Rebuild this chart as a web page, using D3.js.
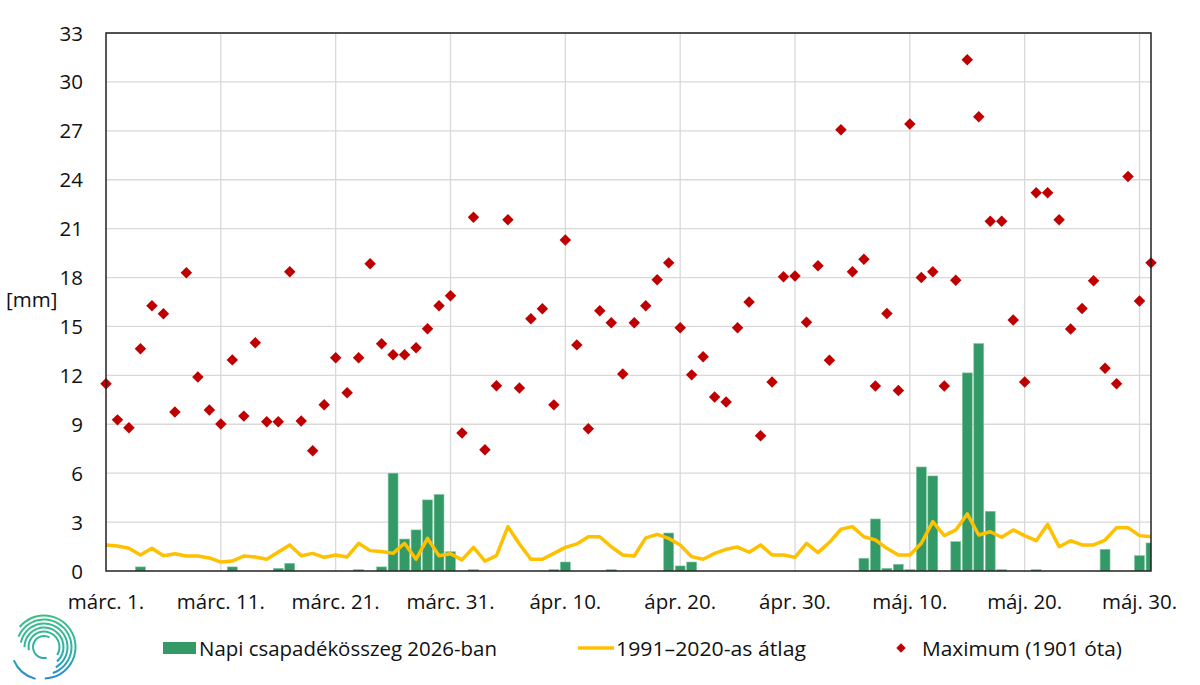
<!DOCTYPE html>
<html>
<head>
<meta charset="utf-8">
<script src="https://cdn.jsdelivr.net/npm/d3@7"></script>
<style>
	body { margin: 0; background: #fff; }
	text { font-family: "Open Sans", "Noto Sans", sans-serif; fill: #111; font-size: 20.5px; }
</style>
</head>
<body>
<div id="chart"></div>
<script>
// napok: márc. 1. – máj. 31.
var dayCount = 92;
var tickDays = [0, 10, 20, 30, 40, 50, 60, 70, 80, 90];
var tickLabels = ["márc. 1.", "márc. 11.", "márc. 21.", "márc. 31.", "ápr. 10.", "ápr. 20.", "ápr. 30.", "máj. 10.", "máj. 20.", "máj. 30."];
var yTicks = [0, 3, 6, 9, 12, 15, 18, 21, 24, 27, 30, 33];

// napi csapadék 2026 (csak a nem nulla napok)
var rainDays = [3, 11, 15, 16, 22, 24, 25, 26, 27, 28, 29, 30, 32, 39, 40, 44, 49, 50, 51, 66, 67, 68, 69, 70, 71, 72, 74, 75, 76, 77, 78, 81, 87, 90, 91];
var rainValues = [0.25, 0.25, 0.16, 0.47, 0.08, 0.25, 6.0, 1.96, 2.52, 4.36, 4.69, 1.18, 0.08, 0.08, 0.55, 0.08, 2.33, 0.31, 0.55, 0.78, 3.19, 0.16, 0.41, 0.08, 6.38, 5.83, 1.8, 12.15, 13.95, 3.66, 0.08, 0.08, 1.33, 0.94, 1.72];

// 1991–2020-as átlag
var avgValues = [1.6, 1.53, 1.39, 0.98, 1.39, 0.94, 1.06, 0.92, 0.92, 0.8,
	0.55, 0.61, 0.92, 0.86, 0.72, 1.17, 1.6, 0.94, 1.08, 0.84,
	0.98, 0.86, 1.7, 1.25, 1.19, 1.08, 1.7, 0.72, 2.0, 0.94,
	1.06, 0.68, 1.45, 0.61, 0.94, 2.72, 1.66, 0.72, 0.72, 1.08,
	1.45, 1.66, 2.1, 2.1, 1.49, 0.98, 0.92, 2.03, 2.25, 2.0,
	1.6, 0.88, 0.72, 1.08, 1.33, 1.47, 1.15, 1.6, 0.98, 0.98,
	0.84, 1.7, 1.13, 1.76, 2.56, 2.72, 2.1, 1.9, 1.39, 0.98,
	0.98, 1.7, 3.03, 2.17, 2.52, 3.5, 2.21, 2.41, 2.07, 2.52,
	2.17, 1.86, 2.86, 1.49, 1.86, 1.6, 1.6, 1.9, 2.66, 2.66,
	2.17, 2.1];

// maximum (1901 óta)
var maxValues = [11.48, 9.27, 8.78, 13.63, 16.27, 15.78, 9.76, 18.29, 11.9, 9.88,
	9.02, 12.95, 9.5, 14.0, 9.15, 9.15, 18.35, 9.2, 7.37, 10.2,
	13.08, 10.93, 13.08, 18.85, 13.94, 13.26, 13.26, 13.69, 14.86, 16.27,
	16.88, 8.47, 21.7, 7.43, 11.36, 21.55, 11.23, 15.47, 16.08, 10.19,
	20.3, 13.87, 8.72, 15.96, 15.22, 12.09, 15.22, 16.27, 17.86, 18.9,
	14.92, 12.03, 13.14, 10.68, 10.37, 14.92, 16.5, 8.29, 11.6, 18.05,
	18.1, 15.26, 18.73, 12.93, 27.07, 18.35, 19.12, 11.35, 15.8, 11.07,
	27.42, 18.0, 18.35, 11.35, 17.84, 31.36, 27.86, 21.45, 21.45, 15.4,
	11.59, 23.2, 23.2, 21.55, 14.85, 16.1, 17.8, 12.44, 11.49, 24.2,
	16.56, 18.9];

var legendLabels = ["Napi csapadékösszeg 2026-ban", "1991–2020-as átlag", "Maximum (1901 óta)"];

var W = 1200, H = 685;
var margins = { left: 106, right: 49, top: 33, bottom: 114 };

var svg = d3.select("#chart").append("svg")
	.attr("width", W)
	.attr("height", H);
var defs = svg.append("defs");

var x = d3.scaleLinear()
	.domain([0, dayCount - 1])
	.range([margins.left, W - margins.right]);
var step = x(1) - x(0);
var y = d3.scaleLinear()
	.domain([0, 33])
	.range([H - margins.bottom, margins.top]);

// gridlines
svg.append("g").selectAll("line.h")
	.data(yTicks.slice(1))
	.enter().append("line")
	.attr("x1", margins.left).attr("x2", W - margins.right)
	.attr("y1", function(d) { return y(d); }).attr("y2", function(d) { return y(d); })
	.attr("stroke", "#d9d9d9").attr("stroke-width", 1.3);
svg.append("g").selectAll("line.v")
	.data(tickDays.slice(1))
	.enter().append("line")
	.attr("x1", function(d) { return x(d); }).attr("x2", function(d) { return x(d); })
	.attr("y1", margins.top).attr("y2", H - margins.bottom)
	.attr("stroke", "#d9d9d9").attr("stroke-width", 1.3);

// bars
defs.append("clipPath").attr("id", "plotClip")
	.append("rect")
	.attr("x", margins.left).attr("y", margins.top)
	.attr("width", W - margins.right - margins.left)
	.attr("height", H - margins.bottom - margins.top);

var barW = step * 0.86;
svg.append("g").attr("clip-path", "url(#plotClip)")
	.selectAll("rect")
	.data(rainDays)
	.enter().append("rect")
	.attr("x", function(d) { return x(d) - barW / 2; })
	.attr("y", function(d, i) { return y(rainValues[i]); })
	.attr("width", barW)
	.attr("height", function(d, i) { return y(0) - y(rainValues[i]); })
	.attr("fill", "#339966")
	.attr("stroke", "#7cc59d")
	.attr("stroke-width", 0.6);

// average line
var line = d3.line()
	.x(function(d, i) { return x(i); })
	.y(function(d) { return y(d); });
svg.append("path")
	.datum(avgValues)
	.attr("d", line)
	.attr("fill", "none")
	.attr("stroke", "#ffc000")
	.attr("stroke-width", 3.5)
	.attr("stroke-linejoin", "round");

// maximum diamonds
var diamond = d3.symbol().type(d3.symbolSquare).size(66);
svg.append("g").selectAll("path")
	.data(maxValues)
	.enter().append("path")
	.attr("d", diamond)
	.attr("transform", function(d, i) { return "translate(" + x(i) + "," + y(d) + ") rotate(45)"; })
	.attr("fill", "#c00000");

// frame
svg.append("rect")
	.attr("x", margins.left).attr("y", margins.top)
	.attr("width", W - margins.right - margins.left)
	.attr("height", H - margins.bottom - margins.top)
	.attr("fill", "none")
	.attr("stroke", "#222")
	.attr("stroke-width", 1.5);

// axis labels
svg.append("g").selectAll("text")
	.data(yTicks)
	.enter().append("text")
	.attr("x", 83)
	.attr("y", function(d) { return y(d) + 7.5; })
	.attr("text-anchor", "end")
	.text(function(d) { return d; });
svg.append("text")
	.attr("x", 6).attr("y", 307)
	.text("[mm]");

svg.append("g").selectAll("text")
	.data(tickDays)
	.enter().append("text")
	.attr("x", function(d) { return x(d); })
	.attr("y", 609)
	.attr("text-anchor", "middle")
	.text(function(d, i) { return tickLabels[i]; });

// legend
var lg = svg.append("g");
lg.append("rect").attr("x", 163).attr("y", 642).attr("width", 33).attr("height", 12).attr("fill", "#339966");
lg.append("text").attr("x", 199).attr("y", 656)
	.attr("textLength", 298).attr("lengthAdjust", "spacingAndGlyphs").text(legendLabels[0]);
lg.append("line").attr("x1", 578).attr("x2", 614).attr("y1", 648).attr("y2", 648)
	.attr("stroke", "#ffc000").attr("stroke-width", 3.5);
lg.append("text").attr("x", 616).attr("y", 656)
	.attr("textLength", 190).attr("lengthAdjust", "spacingAndGlyphs").text(legendLabels[1]);
lg.append("path").attr("d", d3.symbol().type(d3.symbolSquare).size(44))
	.attr("transform", "translate(901,648) rotate(45)").attr("fill", "#c00000");
lg.append("text").attr("x", 922).attr("y", 656)
	.attr("textLength", 200).attr("lengthAdjust", "spacingAndGlyphs").text(legendLabels[2]);

// logo swirl
var grad = defs.append("linearGradient")
	.attr("id", "logoGrad")
	.attr("gradientUnits", "userSpaceOnUse")
	.attr("x1", 0).attr("y1", -34).attr("x2", 0).attr("y2", 34);
grad.append("stop").attr("offset", "0%").attr("stop-color", "#3cc080");
grad.append("stop").attr("offset", "55%").attr("stop-color", "#2fb3a6");
grad.append("stop").attr("offset", "100%").attr("stop-color", "#2a86d6");

var logoArcs = [
	{ r: 11, a0: 2.9, a1: 6.8 },
	{ r: 15.5, a0: 4.5, a1: 8.4 },
	{ r: 19.5, a0: 4.7, a1: 8.7 },
	{ r: 23.5, a0: 4.9, a1: 8.9 },
	{ r: 27.5, a0: 5.1, a1: 9.1 },
	{ r: 31.5, a0: 5.4, a1: 9.4 },
	{ r: 33, a0: 3.4, a1: 4.3 }
];
var logo = svg.append("g").attr("transform", "translate(44,647)");
logo.selectAll("path")
	.data(logoArcs)
	.enter().append("path")
	.attr("d", function(a) {
		return d3.arc().innerRadius(a.r - 1).outerRadius(a.r + 1)
			.startAngle(a.a0).endAngle(a.a1)();
	})
	.attr("fill", "url(#logoGrad)");
</script>
</body>
</html>
